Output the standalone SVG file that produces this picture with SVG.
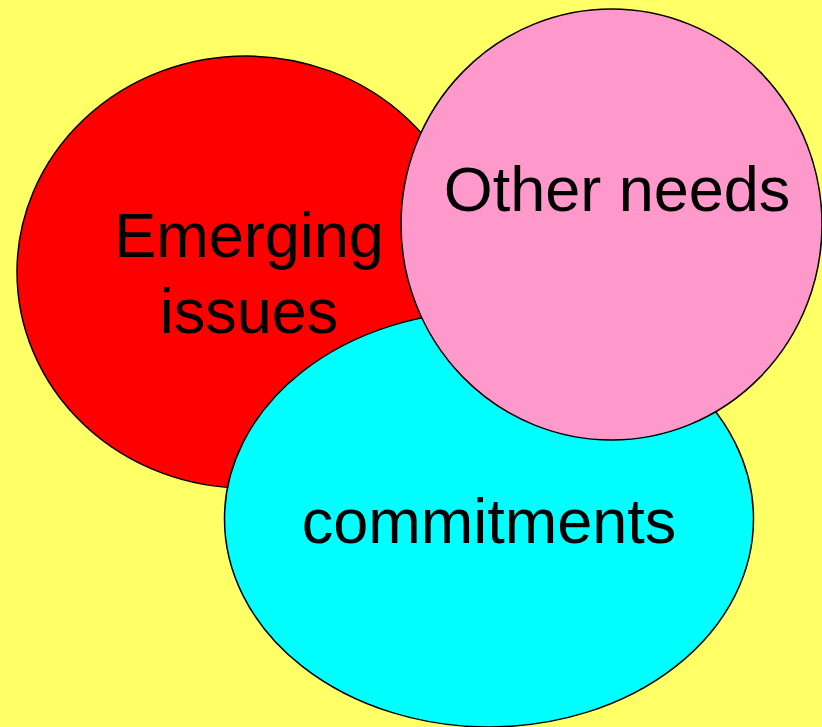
<svg xmlns="http://www.w3.org/2000/svg" width="822" height="727" viewBox="0 0 822 727">
<style>
.shape{stroke:#000;stroke-width:1.5}
.lbl{font-family:"Liberation Sans",Arial,Helvetica,sans-serif;font-size:63px;fill:#000;text-anchor:middle}
</style>
<rect x="0" y="0" width="822" height="727" fill="#FFFF66"/>
<g id="emerging">
<ellipse class="shape" cx="246" cy="272" rx="229" ry="216" fill="#FF0000"/>
<text class="lbl" x="249" y="257">Emerging</text>
<text class="lbl" x="249" y="333">issues</text>
</g>
<g id="commitments">
<ellipse class="shape" cx="489" cy="519" rx="264.5" ry="208" fill="#00FFFF"/>
<text class="lbl" x="489" y="543">commitments</text>
</g>
<g id="other">
<ellipse class="shape" cx="611.5" cy="224.5" rx="210.5" ry="215.5" fill="#FF99CC"/>
<text class="lbl" x="617" y="211">Other needs</text>
</g>
<g id="connectors"></g>
</svg>
